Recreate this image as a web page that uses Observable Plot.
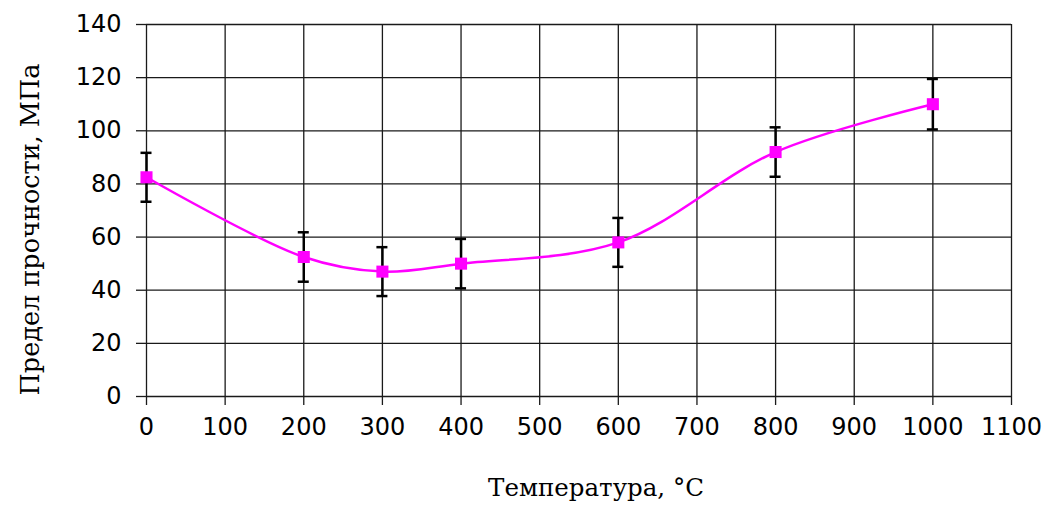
<!DOCTYPE html>
<html>
<head>
<meta charset="utf-8">
<script src="https://cdn.jsdelivr.net/npm/d3@7"></script>
<script src="https://cdn.jsdelivr.net/npm/@observablehq/plot@0.6"></script>
<style>
  html, body { margin: 0; padding: 0; background: #fff; }
</style>
</head>
<body>
<div id="chart"></div>
<script>
const temperatures = [0, 200, 300, 400, 600, 800, 1000];
const strength = [82.5, 52.5, 47, 50, 58, 92, 110];
const errors = [9.2, 9.3, 9.2, 9.3, 9.2, 9.3, 9.5];
const xTicks = [0, 100, 200, 300, 400, 500, 600, 700, 800, 900, 1000, 1100];
const yTicks = [0, 20, 40, 60, 80, 100, 120, 140];
const xLabel = "Температура, °C";
const yLabel = "Предел прочности, МПа";

const data = temperatures.map((t, i) => ({t, v: strength[i], e: errors[i]}));
const capHalf = 7;

const chart = Plot.plot({
  width: 1046,
  height: 508,
  marginLeft: 146,
  marginRight: 35,
  marginTop: 24,
  marginBottom: 112,
  style: {background: "#fff", overflow: "visible"},
  x: {domain: [0, 1100]},
  y: {domain: [0, 140]},
  marks: [
    Plot.gridX(xTicks, {stroke: "#1a1a1a", strokeOpacity: 1, strokeWidth: 1.3}),
    Plot.gridY(yTicks, {stroke: "#1a1a1a", strokeOpacity: 1, strokeWidth: 1.3}),
    Plot.axisX(xTicks, {tickSize: 9, tickPadding: 12, tickFormat: d => String(d), stroke: "#1a1a1a", strokeWidth: 1.3, fontSize: 24, fontFamily: "DejaVu Sans", fill: "#000", label: null}),
    Plot.axisY(yTicks, {tickSize: 10, tickPadding: 15, tickFormat: d => String(d), stroke: "#1a1a1a", strokeWidth: 1.3, fontSize: 24, fontFamily: "DejaVu Sans", fill: "#000", label: null}),
    Plot.ruleX(data, {x: "t", y1: d => d.v - d.e, y2: d => d.v + d.e, stroke: "#000", strokeWidth: 2.5}),
    Plot.ruleY(data, {y: d => d.v - d.e, x1: d => d.t - capHalf, x2: d => d.t + capHalf, stroke: "#000", strokeWidth: 2.5}),
    Plot.ruleY(data, {y: d => d.v + d.e, x1: d => d.t - capHalf, x2: d => d.t + capHalf, stroke: "#000", strokeWidth: 2.5}),
    Plot.line(data, {x: "t", y: "v", curve: "catmull-rom", stroke: "#ff00ff", strokeWidth: 2.5}),
    Plot.dot(data, {x: "t", y: "v", symbol: "square", r: 6.8, fill: "#ff00ff", stroke: null}),
    Plot.text([xLabel], {frameAnchor: "bottom", textAnchor: "middle", lineAnchor: "middle", dx: 17, dy: 92, fontSize: 24.5, fontFamily: "DejaVu Serif", fill: "#000"}),
    Plot.text([yLabel], {frameAnchor: "left", textAnchor: "middle", lineAnchor: "middle", dx: -116, dy: 19, rotate: -90, fontSize: 25.5, fontFamily: "DejaVu Serif", fill: "#000"})
  ]
});
document.getElementById("chart").appendChild(chart);
</script>
</body>
</html>
